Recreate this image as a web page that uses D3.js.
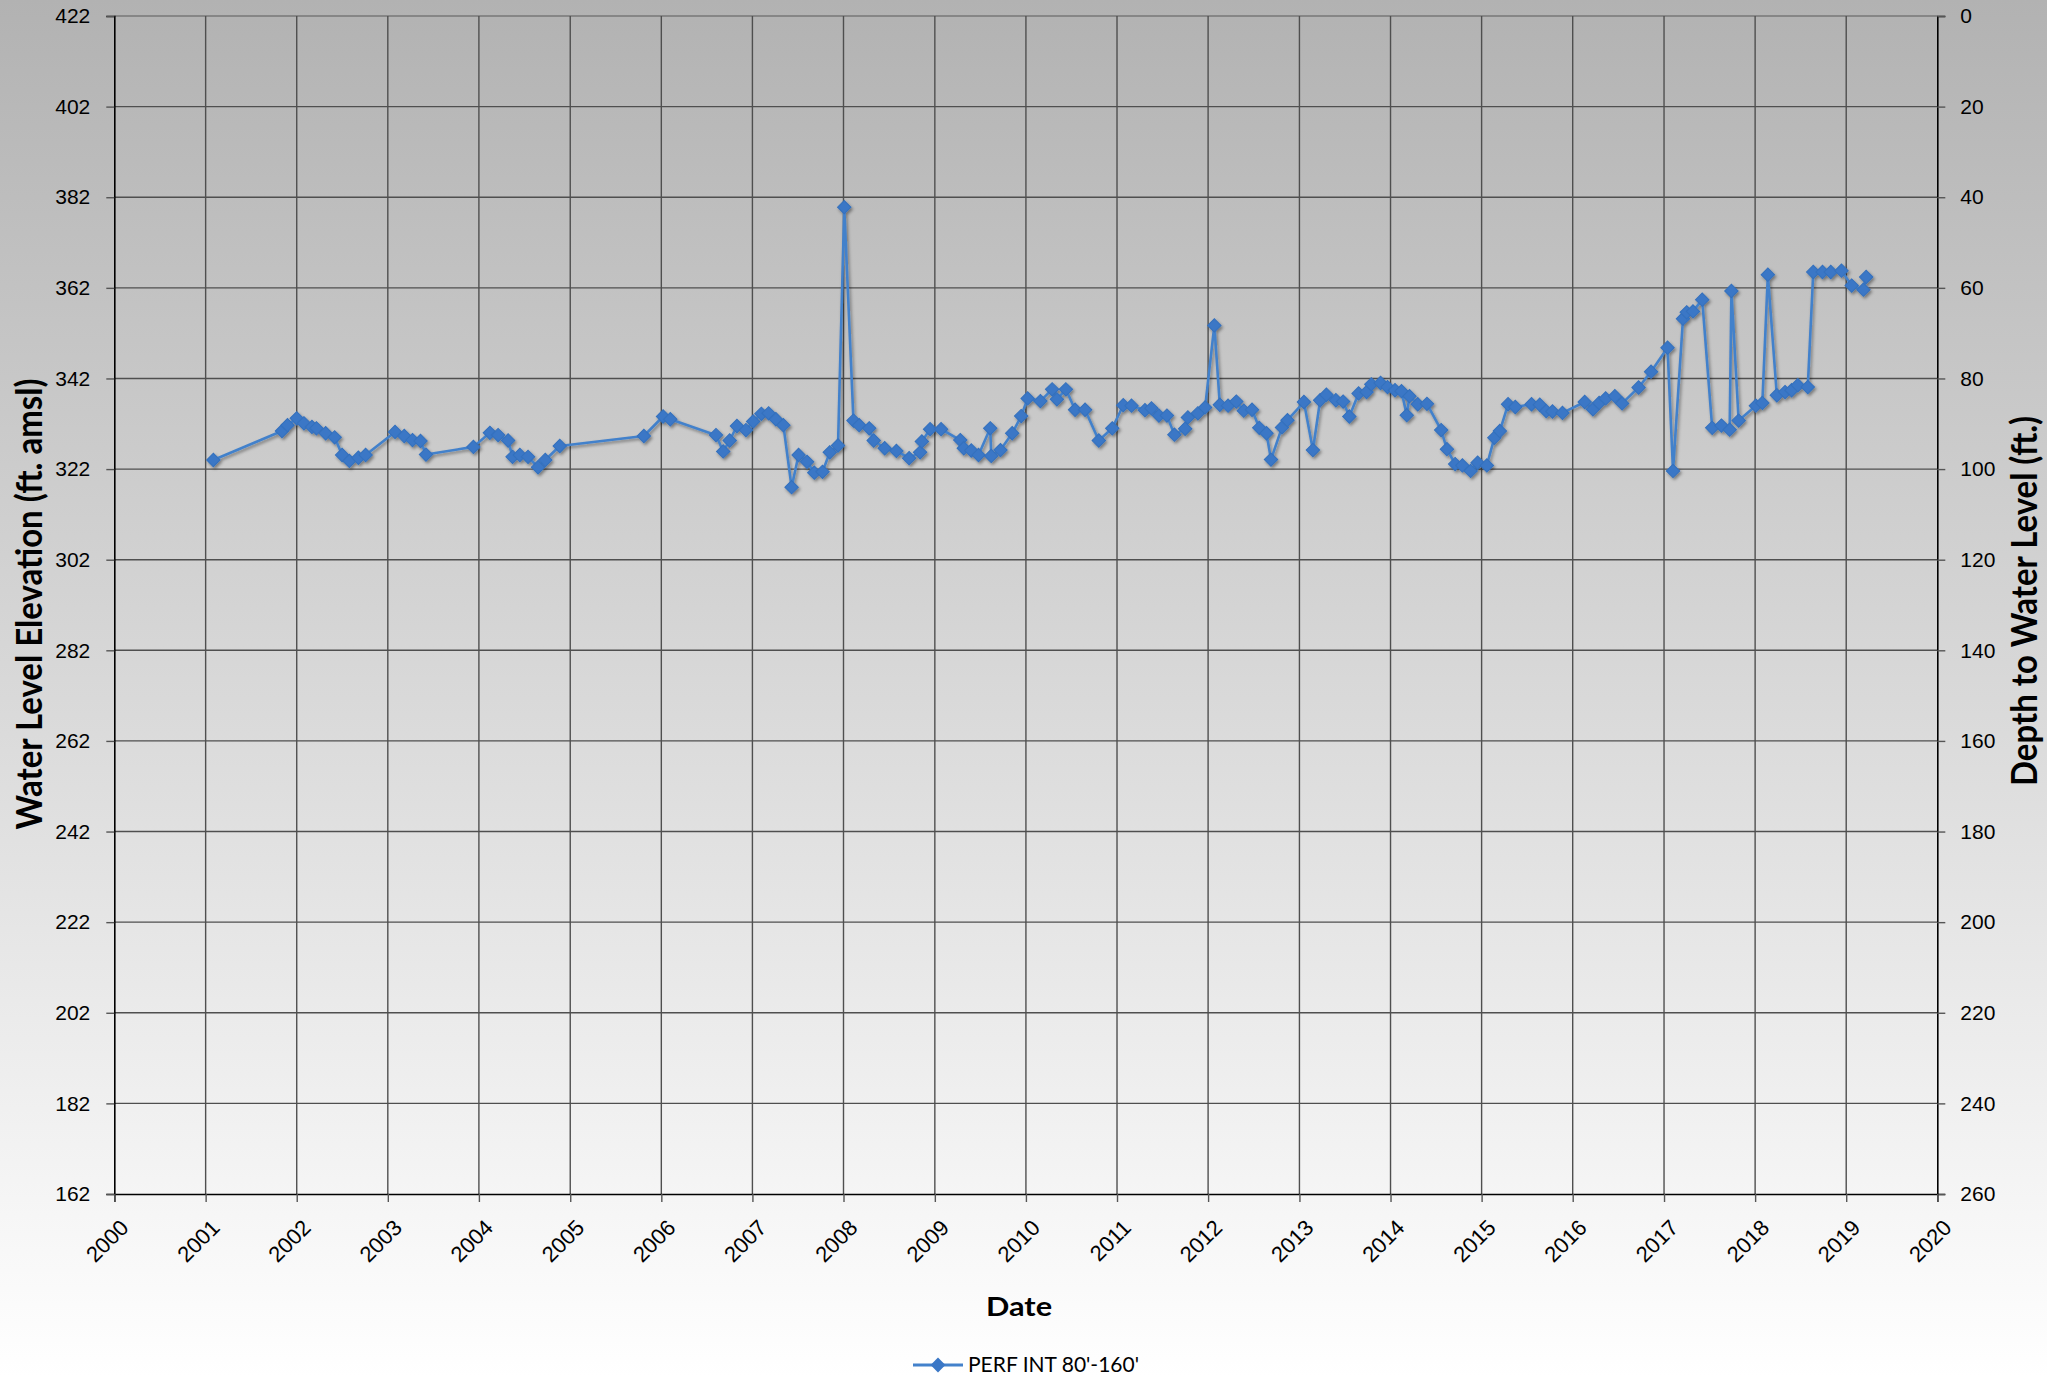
<!DOCTYPE html>
<html lang="en">
<head>
    <meta charset="UTF-8">
    <title>Water Level Hydrograph</title>
    <script src="https://d3js.org/d3.v7.min.js"></script>
    <style>
        body { margin: 0; font-family: Lato, "Open Sans", sans-serif; }
        svg { display: block; }
        .tick-label { font-size: 21px; fill: #000; }
        .x-label { font-size: 22px; }
        .axis-title { font-weight: bold; fill: #000; }
        .legend-label { font-size: 21px; fill: #000; }
    </style>
</head>
<body>
<svg id="chart" width="2047" height="1377"></svg>
<script>
    // measurement dates and water level elevations (ft. amsl)
    const dates = [
        "2001-02-01", "2001-11-03", "2001-11-25", "2002-01-01", "2002-01-30", "2002-03-03", "2002-03-21",
        "2002-04-27", "2002-06-02", "2002-07-02", "2002-07-31", "2002-09-05", "2002-10-04", "2003-01-30",
        "2003-03-08", "2003-04-10", "2003-05-12", "2003-06-03", "2003-12-10", "2004-02-14", "2004-03-18",
        "2004-04-27", "2004-05-15", "2004-06-13", "2004-07-16", "2004-08-25", "2004-09-23", "2004-11-20",
        "2005-10-23", "2006-01-08", "2006-02-06", "2006-08-08", "2006-09-06", "2006-10-02", "2006-10-31",
        "2006-12-06", "2007-01-04", "2007-02-06", "2007-03-07", "2007-04-05", "2007-05-05", "2007-06-07",
        "2007-07-05", "2007-08-08", "2007-09-06", "2007-10-09", "2007-11-07", "2007-12-10", "2008-01-04",
        "2008-02-10", "2008-03-04", "2008-04-13", "2008-05-01", "2008-06-14", "2008-07-31", "2008-09-20",
        "2008-11-03", "2008-11-10", "2008-12-13", "2009-01-26", "2009-04-13", "2009-04-27", "2009-05-27",
        "2009-06-25", "2009-08-11", "2009-08-15", "2009-09-21", "2009-11-07", "2009-12-13", "2010-01-08",
        "2010-02-28", "2010-04-16", "2010-05-05", "2010-06-10", "2010-07-17", "2010-08-26", "2010-10-20",
        "2010-12-13", "2011-01-26", "2011-02-28", "2011-04-23", "2011-05-19", "2011-06-18", "2011-07-20",
        "2011-08-19", "2011-10-01", "2011-10-12", "2011-11-21", "2011-12-20", "2012-01-26", "2012-02-17",
        "2012-03-21", "2012-04-23", "2012-05-23", "2012-06-25", "2012-07-24", "2012-08-22", "2012-09-09",
        "2012-10-23", "2012-11-14", "2013-01-19", "2013-02-24", "2013-03-25", "2013-04-19", "2013-05-27",
        "2013-06-25", "2013-07-20", "2013-08-26", "2013-09-27", "2013-10-16", "2013-11-22", "2013-12-20",
        "2014-01-19", "2014-02-14", "2014-03-07", "2014-03-18", "2014-04-20", "2014-05-27",
        "2014-07-23", "2014-08-15", "2014-09-17", "2014-10-16", "2014-11-18", "2014-12-16", "2015-01-22",
        "2015-02-21", "2015-03-15", "2015-04-17", "2015-05-16", "2015-07-20", "2015-08-22", "2015-09-17",
        "2015-10-12", "2015-11-21", "2016-02-18", "2016-03-22", "2016-04-16", "2016-05-12", "2016-06-18",
        "2016-07-17", "2016-09-21", "2016-11-10", "2017-01-15", "2017-02-06", "2017-03-18", "2017-04-02",
        "2017-04-27", "2017-06-03", "2017-07-13", "2017-08-19", "2017-09-21", "2017-09-28", "2017-10-27",
        "2018-01-04", "2018-01-30", "2018-02-21", "2018-03-29", "2018-05-01", "2018-05-27", "2018-06-21",
        "2018-07-31", "2018-08-22", "2018-09-28", "2018-10-31", "2018-12-13", "2019-01-23", "2019-03-11",
        "2019-03-22"
    ];

    const elevation = [
        324.0, 330.4, 331.7, 333.2, 332.1, 331.3, 331.0,
        329.9, 329.0, 325.1, 323.8, 324.5, 325.1, 330.2,
        329.3, 328.4, 328.2, 325.2, 326.9, 330.0, 329.5,
        328.3, 324.7, 325.1, 324.7, 322.4, 324.0, 327.1,
        329.3, 333.6, 333.0, 329.5, 325.9, 328.3, 331.5,
        330.6, 332.5, 334.2, 334.3, 333.0, 331.7, 318.0,
        325.1, 323.6, 321.2, 321.4, 325.7, 327.2, 379.8,
        332.7, 331.7, 331.0, 328.3, 326.6, 326.0, 324.4,
        325.7, 328.1, 330.8, 330.8, 328.4, 326.6, 326.1,
        325.1, 331.0, 324.9, 326.2, 329.9, 333.7, 337.6,
        337.0, 339.6, 337.4, 339.6, 335.1, 335.1, 328.3,
        331.0, 336.1, 336.0, 335.0, 335.4, 333.8, 333.8,
        329.6, 330.9, 333.4, 334.3, 335.6, 353.7, 336.2,
        336.0, 336.9, 334.9, 335.1, 331.1, 329.9, 324.1,
        331.2, 332.8, 336.8, 326.2, 337.2, 338.4, 337.2,
        336.9, 333.6, 338.7, 339.0, 340.7, 341.0, 340.1,
        339.4, 339.2, 333.9, 338.1, 336.3, 336.4,
        330.6, 326.4, 323.1, 322.8, 321.6, 323.4, 322.8,
        328.9, 330.4, 336.3, 335.7, 336.3, 336.2, 334.8,
        334.7, 334.4, 336.8, 335.2, 336.6, 337.6, 338.1,
        336.5, 340.0, 343.5, 348.8, 321.6, 355.2, 356.6,
        356.8, 359.4, 331.1, 331.6, 330.7, 361.3, 332.7,
        336.0, 336.6, 364.9, 338.3, 339.0, 339.4, 340.5,
        340.1, 365.5, 365.5, 365.5, 365.8, 362.5, 361.6,
        364.4
    ];

    const elevationTicks = [162, 182, 202, 222, 242, 262, 282, 302, 322, 342, 362, 382, 402, 422];
    const depthTicks = [0, 20, 40, 60, 80, 100, 120, 140, 160, 180, 200, 220, 240, 260];
    const yearTicks = [2000, 2001, 2002, 2003, 2004, 2005, 2006, 2007, 2008, 2009, 2010,
                       2011, 2012, 2013, 2014, 2015, 2016, 2017, 2018, 2019, 2020];
    const seriesName = "PERF INT 80'-160'";

    const width = 2047, height = 1377;
    const plot = {left: 114.3, right: 1937.3, top: 16, bottom: 1194};

    const parseDate = d3.timeParse("%Y-%m-%d");
    const data = dates.map((d, i) => ({date: parseDate(d), elev: elevation[i]}));

    const svg = d3.select("#chart");

    const defs = svg.append("defs");
    const grad = defs.append("linearGradient")
        .attr("id", "bg")
        .attr("x1", 0).attr("y1", 0).attr("x2", 0).attr("y2", 1);
    grad.append("stop").attr("offset", "0%").attr("stop-color", "#b2b2b2");
    grad.append("stop").attr("offset", "100%").attr("stop-color", "#ffffff");

    const shadow = defs.append("filter").attr("id", "shadow")
        .attr("x", "-20%").attr("y", "-20%").attr("width", "140%").attr("height", "140%");
    shadow.append("feDropShadow")
        .attr("dx", 1.5).attr("dy", 2)
        .attr("stdDeviation", 1.6)
        .attr("flood-color", "#000")
        .attr("flood-opacity", 0.4);

    svg.append("rect")
        .attr("width", width).attr("height", height)
        .attr("fill", "url(#bg)");

    const x = d3.scaleTime()
        .domain([new Date(2000, 0, 1), new Date(2020, 0, 1)])
        .range([plot.left, plot.right]);

    const y = d3.scaleLinear()
        .domain([162, 422])
        .range([plot.bottom, plot.top]);

    const yDepth = d3.scaleLinear()
        .domain([260, 0])
        .range([plot.bottom, plot.top]);

    // gridlines
    svg.append("g")
        .selectAll("line")
        .data(elevationTicks.filter(d => d !== 162))
        .join("line")
        .attr("x1", plot.left).attr("x2", plot.right)
        .attr("y1", d => y(d)).attr("y2", d => y(d))
        .attr("stroke", d => d === 422 ? "#777" : "#4f4f4f")
        .attr("stroke-width", 1.4);

    svg.append("g")
        .selectAll("line")
        .data(yearTicks.filter(d => d !== 2000 && d !== 2020))
        .join("line")
        .attr("x1", d => x(new Date(d, 0, 1))).attr("x2", d => x(new Date(d, 0, 1)))
        .attr("y1", plot.top).attr("y2", plot.bottom)
        .attr("stroke", "#4f4f4f")
        .attr("stroke-width", 1.4);

    // left axis
    const leftAxis = svg.append("g")
        .attr("transform", `translate(${plot.left},0)`)
        .call(d3.axisLeft(y).tickValues(elevationTicks).tickSize(8).tickPadding(16));
    leftAxis.select(".domain").attr("stroke", "#000").attr("stroke-width", 1.6);
    leftAxis.selectAll(".tick line").attr("stroke", "#555").attr("stroke-width", 1.4);
    leftAxis.selectAll(".tick text").attr("class", "tick-label");

    // right axis (depth to water)
    const rightAxis = svg.append("g")
        .attr("transform", `translate(${plot.right},0)`)
        .call(d3.axisRight(yDepth).tickValues(depthTicks).tickSize(8).tickPadding(15));
    rightAxis.select(".domain").attr("stroke", "#000").attr("stroke-width", 1.6);
    rightAxis.selectAll(".tick line").attr("stroke", "#555").attr("stroke-width", 1.4);
    rightAxis.selectAll(".tick text").attr("class", "tick-label");

    // bottom axis
    const bottomAxis = svg.append("g")
        .attr("transform", `translate(0,${plot.bottom})`)
        .call(d3.axisBottom(x)
            .tickValues(yearTicks.map(d => new Date(d, 0, 1)))
            .tickFormat(d3.timeFormat("%Y"))
            .tickSize(8));
    bottomAxis.select(".domain").attr("stroke", "#000").attr("stroke-width", 1.6);
    bottomAxis.selectAll(".tick line").attr("stroke", "#555").attr("stroke-width", 1.4);
    bottomAxis.selectAll(".tick text")
        .attr("class", "tick-label x-label")
        .attr("y", null).attr("dy", null)
        .attr("text-anchor", "end")
        .attr("transform", "translate(15,35) rotate(-45)");

    // axis titles (the original chart's text is a little stretched across)
    svg.append("text")
        .attr("class", "axis-title")
        .attr("font-size", 33)
        .attr("text-anchor", "middle")
        .attr("transform", "translate(42,604) rotate(-90) scale(1,1.12)")
        .text("Water Level Elevation (ft. amsl)");

    svg.append("text")
        .attr("class", "axis-title")
        .attr("font-size", 33)
        .attr("text-anchor", "middle")
        .attr("transform", "translate(2037,601) rotate(-90) scale(1,1.1)")
        .text("Depth to Water Level (ft.)");

    svg.append("text")
        .attr("class", "axis-title")
        .attr("font-size", 26.5)
        .attr("text-anchor", "middle")
        .attr("transform", "translate(1019,1316) scale(1.16,1)")
        .text("Date");

    // series
    const color = "#4381cb";
    const markerFill = "#3a77c6";
    const diamond = d3.symbol().type(d3.symbolSquare).size(90);

    const series = svg.append("g").attr("filter", "url(#shadow)");

    series.append("path")
        .datum(data)
        .attr("fill", "none")
        .attr("stroke", color)
        .attr("stroke-width", 2.6)
        .attr("stroke-linejoin", "round")
        .attr("d", d3.line().x(d => x(d.date)).y(d => y(d.elev)));

    series.selectAll(".marker")
        .data(data)
        .join("path")
        .attr("class", "marker")
        .attr("d", diamond)
        .attr("transform", d => `translate(${x(d.date)},${y(d.elev)}) rotate(45)`)
        .attr("fill", markerFill)
        .attr("stroke", "#3470bd")
        .attr("stroke-width", 1);

    // legend
    const legend = svg.append("g").attr("transform", "translate(913,1365)");
    legend.append("line")
        .attr("x1", 0).attr("x2", 50)
        .attr("stroke", color).attr("stroke-width", 3);
    legend.append("path")
        .attr("d", d3.symbol().type(d3.symbolSquare).size(110))
        .attr("transform", "translate(25,0) rotate(45)")
        .attr("fill", markerFill);
    legend.append("text")
        .attr("class", "legend-label")
        .attr("x", 55).attr("y", 7)
        .text(seriesName);
</script>
</body>
</html>
